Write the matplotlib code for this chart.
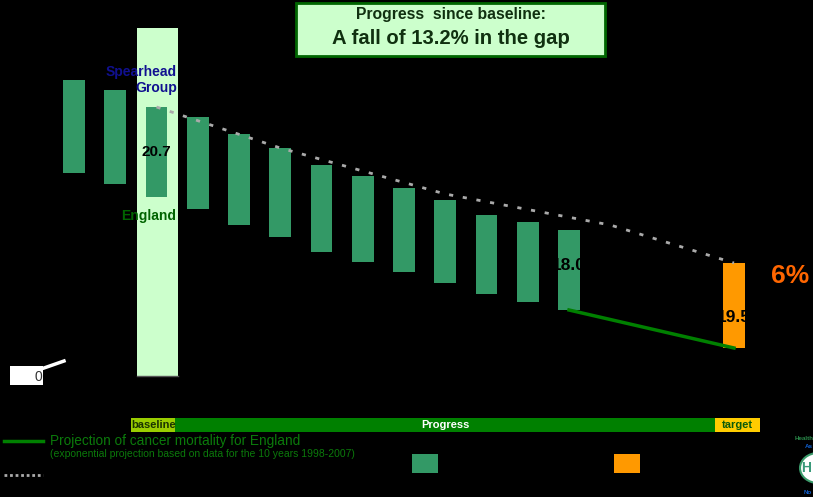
import matplotlib.pyplot as plt
from matplotlib.patches import Rectangle, Ellipse
from matplotlib.transforms import TransformedBbox

plt.rcParams['font.family'] = ['Liberation Sans', 'DejaVu Sans']

# three-year periods, baseline 1995-97, target 2009-11
periods = ['1993-95', '1994-96', '1995-97', '1996-98', '1997-99', '1998-00', '1999-01',
           '2000-02', '2001-03', '2002-04', '2003-05', '2004-06', '2005-07']
spearhead = [185, 180, 171.5, 166.5, 158, 151, 142.5, 137, 131, 125, 117.5, 114, 110]
england = [138.5, 133, 126.5, 120.5, 112.5, 106.5, 99, 94, 89, 83.5, 78, 74, 70]
target_period = '2009-11'
target_top = 93.5
target_bottom = 51

# projections
spear_proj_x = [2, 5, 9, 13, 16]
spear_proj_y = [171.5, 151, 128, 112.5, 93.5]
eng_proj_x = [12, 16]
eng_proj_y = [70, 51]

baseline_gap = '20.7'
latest_gap = '18.0'
target_gap = '19.5'

x = list(range(len(periods)))
x_target = 16
base_i = periods.index('1995-97')

fig = plt.figure(figsize=(8.13, 4.97), dpi=100, facecolor='black')

ax = fig.add_axes([0, 0, 1, 1], zorder=1)
ax.set_xlim(-1.794, 17.915)
ax.set_ylim(-23.5, 225)
ax.axis('off')

# baseline column
ax.add_patch(Rectangle((base_i - 0.47, 37), 0.99, 174, fc='#CCFFCC', ec='none', zorder=0))
ax.plot([base_i - 0.47, base_i + 0.52], [37, 37], color='#555555', lw=1, zorder=0)

h = [s - e for s, e in zip(spearhead, england)]
bars = ax.bar(x, h, bottom=england, width=0.533, color='#339966', zorder=2)
tbar = ax.bar([x_target], [target_top - target_bottom], bottom=[target_bottom],
              width=0.533, color='#FF9900', zorder=2)

ax.plot(spear_proj_x, spear_proj_y, color='#AAAAAA', lw=2, linestyle=(0, (1.5, 3.5)), zorder=3)
ax.plot(eng_proj_x, eng_proj_y, color='#008000', lw=2.5, zorder=3)

ax.text(base_i, 149, baseline_gap, ha='center', va='center', fontsize=11,
        fontweight='bold', color='black', zorder=4)
# labels are black, so the part outside the bar vanishes on the black background
t1 = ax.text(12, 92, latest_gap, ha='center', va='center', fontsize=12.5,
             fontweight='bold', color='black', zorder=4, clip_on=True)
t1.set_clip_box(TransformedBbox(bars[12].get_bbox(), ax.transData))
t2 = ax.text(x_target, 66.5, target_gap, ha='center', va='center', fontsize=12.5,
             fontweight='bold', color='black', zorder=4, clip_on=True)
t2.set_clip_box(TransformedBbox(tbar[0].get_bbox(), ax.transData))

# layout layer in pixel units
lay = fig.add_axes([0, 0, 1, 1], zorder=2)
lay.set_xlim(0, 813)
lay.set_ylim(497, 0)
lay.axis('off')
lay.patch.set_visible(False)

lay.add_patch(Rectangle((296, 3), 309, 53, fc='#CCFFCC', ec='#006600', lw=2))
lay.text(450.5, 15, 'Progress  since baseline:', ha='center', va='center',
         fontsize=11.3, fontweight='bold', color='#103010')
lay.text(450.5, 39, 'A fall of 13.2% in the gap', ha='center', va='center',
         fontsize=14.6, fontweight='bold', color='#103010')

lay.text(177, 72, 'Spearhead', ha='right', va='center', fontsize=10,
         fontweight='bold', color='#101090')
lay.text(177, 88, 'Group', ha='right', va='center', fontsize=10,
         fontweight='bold', color='#101090')
lay.text(176, 216, 'England', ha='right', va='center', fontsize=10,
         fontweight='bold', color='#006400')

lay.text(771, 276, '6%', ha='left', va='center', fontsize=19,
         fontweight='bold', color='#FF6600')

# stray axis label
lay.add_patch(Rectangle((10, 366), 33, 19, fc='white', ec='none'))
lay.text(42, 377, '0', ha='right', va='center', fontsize=10, color='#333333')
lay.plot([44, 64], [368, 361], color='white', lw=2.5)

# period band
lay.add_patch(Rectangle((131, 418), 44, 14, fc='#99CC00', ec='none'))
lay.add_patch(Rectangle((175, 418), 540, 14, fc='#008000', ec='none'))
lay.add_patch(Rectangle((715, 418), 45, 14, fc='#FFCC00', ec='none'))
lay.text(131, 425.5, 'baseline', ha='left', va='center', fontsize=8,
         fontweight='bold', color='#1a3300')
lay.text(445, 425.5, 'Progress', ha='center', va='center', fontsize=8,
         fontweight='bold', color='white')
lay.text(737, 425.5, 'target', ha='center', va='center', fontsize=8,
         fontweight='bold', color='#0a5a0a')

# legend
lay.plot([4, 43], [441, 441], color='#008000', lw=2.5)
lay.text(50, 441, 'Projection of cancer mortality for England', ha='left', va='center',
         fontsize=9.8, color='#0b7a0b')
lay.text(50, 454, '(exponential projection based on data for the 10 years 1998-2007)',
         ha='left', va='center', fontsize=7.5, color='#0b7a0b')
lay.plot([4, 43], [475, 475], color='#AAAAAA', lw=2, linestyle=(0, (1, 1)))
lay.add_patch(Rectangle((412, 454), 26, 19, fc='#339966', ec='none'))
lay.add_patch(Rectangle((614, 454), 26, 19, fc='#FF9900', ec='none'))

# partial logo
lay.text(795, 438, 'Health', ha='left', va='center', fontsize=4.5,
         fontweight='bold', color='#2a8a4a')
lay.text(805, 446, 'As', ha='left', va='center', fontsize=4.5,
         fontweight='bold', color='#1060d0')
lay.add_patch(Ellipse((818, 468), 36, 30, fc='white', ec='#3a9a6a', lw=1.5))
lay.text(806, 468, 'H', ha='center', va='center', fontsize=10,
         fontweight='bold', color='#3a9a7a')
lay.text(804, 492, 'No', ha='left', va='center', fontsize=4.5,
         fontweight='bold', color='#1060d0')

fig.savefig('out.png', dpi=100, facecolor='black')
